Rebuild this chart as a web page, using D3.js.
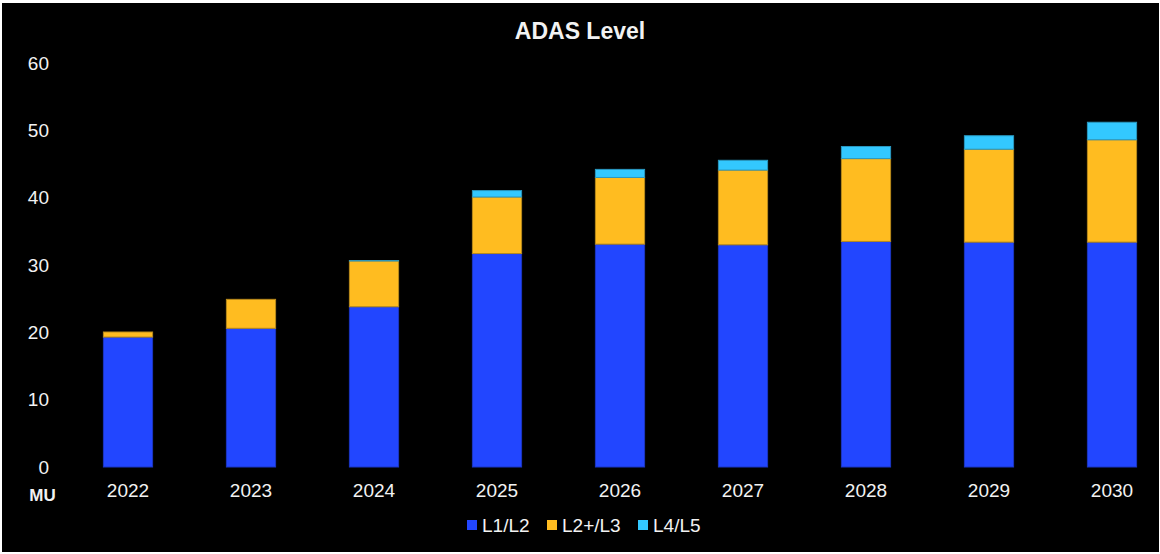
<!DOCTYPE html>
<html>
<head>
<meta charset="utf-8">
<script src="https://cdn.jsdelivr.net/npm/d3@7"></script>
<style>
  html, body { margin: 0; padding: 0; background: #ffffff; }
  svg { display: block; }
  text { font-family: "Liberation Sans", Arial, sans-serif; }
</style>
</head>
<body>
<svg id="chart" width="1160" height="554"></svg>
<script>
const years = ["2022", "2023", "2024", "2025", "2026", "2027", "2028", "2029", "2030"];
const seriesNames = ["L1/L2", "L2+/L3", "L4/L5"];
const l1l2 = [19.3, 20.6, 23.8, 31.7, 33.1, 33.0, 33.5, 33.4, 33.4];
const l2l3 = [0.75, 4.3, 6.8, 8.4, 9.9, 11.1, 12.3, 13.8, 15.2];
const l4l5 = [0, 0, 0.05, 0.95, 1.2, 1.45, 1.8, 2.0, 2.6];
const yTicks = [0, 10, 20, 30, 40, 50, 60];
const colors = ["#2246FF", "#FFBC20", "#33C8FF"];
const strokes = ["#1b36c4", "#b88a1c", "#2a98c0"];

const svg = d3.select("#chart");
svg.append("rect").attr("x", 2).attr("y", 3).attr("width", 1157).attr("height", 549).attr("fill", "#000");

const rows = years.map((y, i) => ({ year: y, "L1/L2": l1l2[i], "L2+/L3": l2l3[i], "L4/L5": l4l5[i] }));
const stacked = d3.stack().keys(seriesNames)(rows);

const x = d3.scaleBand().domain(years).range([66.5, 1173.5]).paddingInner(0.6).paddingOuter(0.3);
const y = d3.scaleLinear().domain([0, 60]).range([467, 63]);

// title
svg.append("text").attr("x", 580).attr("y", 39).attr("text-anchor", "middle")
  .attr("fill", "#f2f2f2").attr("font-size", 23).attr("font-weight", "bold").text("ADAS Level");

// y axis
const yAxis = svg.append("g").attr("transform", "translate(49,0)")
  .call(d3.axisLeft(y).tickValues(yTicks).tickSize(0).tickPadding(0));
yAxis.select(".domain").remove();
yAxis.selectAll("text").attr("fill", "#f2f2f2").attr("font-size", 19)
  .attr("font-family", "Liberation Sans, Arial, sans-serif");

// x axis
const xAxis = svg.append("g").attr("transform", "translate(0,467)")
  .call(d3.axisBottom(x).tickSize(0).tickPadding(17));
xAxis.select(".domain").remove();
xAxis.selectAll("text").attr("fill", "#f2f2f2").attr("font-size", 19)
  .attr("font-family", "Liberation Sans, Arial, sans-serif");

// unit label
svg.append("text").attr("x", 42.5).attr("y", 501).attr("text-anchor", "middle")
  .attr("fill", "#f2f2f2").attr("font-size", 17).attr("font-weight", "bold").text("MU");

// bars
svg.append("g").selectAll("g").data(stacked).join("g")
  .attr("fill", (d, i) => colors[i]).attr("stroke", (d, i) => strokes[i]).attr("stroke-width", 1)
  .selectAll("rect").data(d => d.map(v => ({ v, year: v.data.year }))).join("rect")
  .attr("x", d => x(d.year))
  .attr("width", x.bandwidth())
  .attr("y", d => y(d.v[1]))
  .attr("height", d => Math.max(0, y(d.v[0]) - y(d.v[1])));

// legend
const legendX = [467, 547, 638];
const legend = svg.append("g");
seriesNames.forEach((name, i) => {
  legend.append("rect").attr("x", legendX[i]).attr("y", 520).attr("width", 10).attr("height", 10)
    .attr("fill", colors[i]);
  legend.append("text").attr("x", legendX[i] + 15).attr("y", 532)
    .attr("fill", "#f2f2f2").attr("font-size", 19).text(name);
});
</script>
</body>
</html>
